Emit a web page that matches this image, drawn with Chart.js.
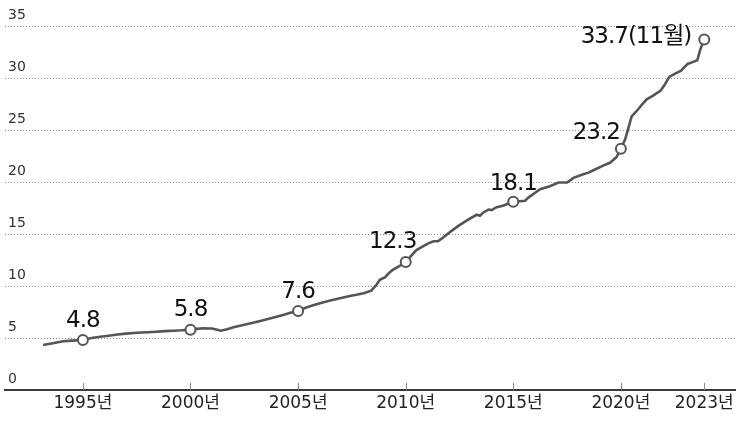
<!DOCTYPE html>
<html lang="ko">
<head>
<meta charset="utf-8">
<script src="https://cdn.jsdelivr.net/npm/chart.js@4/dist/chart.umd.min.js"></script>
<style>
  html, body { margin: 0; padding: 0; background: #fff; overflow: hidden; }
  canvas { display: block; }
</style>
</head>
<body>
<canvas id="chart" width="736" height="422"></canvas>
<script>
// Series: decimal year and value
const seriesYears = [
  1993.15, 1993.6, 1994.08, 1994.5, 1995.0, 1995.4, 1995.8, 1996.2, 1996.6, 1997.0,
  1997.5, 1998.0, 1998.4, 1998.8, 1999.2, 1999.6, 2000.0, 2000.3, 2000.6, 2001.0,
  2001.2, 2001.4, 2001.7, 2002.0, 2002.4, 2002.8, 2003.2, 2003.6, 2004.0, 2004.3,
  2004.6, 2005.0, 2005.35, 2005.7, 2006.1, 2006.5, 2006.9, 2007.3, 2007.7, 2008.05,
  2008.4, 2008.6, 2008.8, 2009.05, 2009.2, 2009.4, 2009.7, 2010.0, 2010.25, 2010.5,
  2010.8, 2011.05, 2011.3, 2011.5, 2011.7, 2012.1, 2012.5, 2013.0, 2013.3, 2013.45,
  2013.6, 2013.85, 2014.0, 2014.2, 2014.55, 2014.75, 2015.0, 2015.3, 2015.55, 2015.7,
  2015.9, 2016.25, 2016.7, 2017.1, 2017.5, 2017.8, 2018.25, 2018.5, 2018.75, 2019.2,
  2019.5, 2019.8, 2020.0, 2020.2, 2020.35, 2020.5, 2020.75, 2021.0, 2021.2, 2021.5,
  2021.85, 2022.05, 2022.25, 2022.5, 2022.8, 2023.1, 2023.3, 2023.55, 2023.7, 2023.875
];
const seriesValues = [
  4.32, 4.5, 4.68, 4.75, 4.8, 5.0, 5.12, 5.22, 5.33, 5.42,
  5.5, 5.55, 5.6, 5.66, 5.7, 5.74, 5.8, 5.88, 5.93, 5.92,
  5.82, 5.7, 5.85, 6.03, 6.22, 6.42, 6.62, 6.83, 7.05, 7.22,
  7.4, 7.6, 7.9, 8.15, 8.4, 8.6, 8.8, 9.0, 9.15, 9.3,
  9.55, 10.0, 10.6, 10.85, 11.2, 11.55, 11.9, 12.3, 12.9, 13.45,
  13.8, 14.1, 14.3, 14.3, 14.6, 15.25, 15.85, 16.5, 16.85, 16.75,
  17.05, 17.35, 17.3, 17.55, 17.75, 17.9, 18.1, 18.15, 18.2, 18.5,
  18.8, 19.3, 19.6, 19.95, 19.95, 20.4, 20.75, 20.9, 21.15, 21.6,
  21.85, 22.4, 23.2, 24.1, 25.2, 26.3, 26.85, 27.5, 27.95, 28.3,
  28.8, 29.4, 30.1, 30.4, 30.7, 31.35, 31.5, 31.7, 32.8, 33.7
];

// Marked points with their value labels
const markYears = [1995, 2000, 2005, 2010, 2015, 2020, 2023.875];
const markValues = [4.8, 5.8, 7.6, 12.3, 18.1, 23.2, 33.7];
const markLabels = ['4.8', '5.8', '7.6', '12.3', '18.1', '23.2', '33.7(11월)'];

// Axis ticks
const xTickYears = [1995, 2000, 2005, 2010, 2015, 2020, 2023.875];
const xTickLabels = ['1995년', '2000년', '2005년', '2010년', '2015년', '2020년', '2023년'];
const yTickValues = [0, 5, 10, 15, 20, 25, 30, 35];

// Where each value label sits relative to its point: [textAlign, dx, dy, baseline]
const labelPlacement = [
  ['center', 0, -13, 'alphabetic'],
  ['center', 0, -14, 'alphabetic'],
  ['center', 0, -13, 'alphabetic'],
  ['center', -13, -14, 'alphabetic'],
  ['center', 0, -12, 'alphabetic'],
  ['right', -1, -10, 'alphabetic'],
  ['right', -13, -2, 'middle']
];

const FONT = '"DejaVu Sans", "Noto Sans CJK KR", sans-serif';
const LINE_COLOR = '#555555';

const toXY = (xs, ys) => xs.map((x, i) => ({ x, y: ys[i] }));

// Small tick marks standing up from the bottom axis
const upTicks = {
  id: 'upTicks',
  afterDraw(chart) {
    const sx = chart.scales.x;
    const ctx = chart.ctx;
    ctx.save();
    ctx.strokeStyle = '#8a8a8a';
    ctx.lineWidth = 1;
    sx.ticks.forEach(t => {
      const px = Math.round(sx.getPixelForValue(t.value)) + 0.5;
      ctx.beginPath();
      ctx.moveTo(px, sx.top);
      ctx.lineTo(px, sx.top - 7);
      ctx.stroke();
    });
    ctx.restore();
  }
};

// Value labels next to the marked points
const valueLabels = {
  id: 'valueLabels',
  afterDatasetsDraw(chart) {
    const meta = chart.getDatasetMeta(1);
    const ctx = chart.ctx;
    ctx.save();
    ctx.fillStyle = '#111111';
    ctx.font = '23px ' + FONT;
    if ('letterSpacing' in ctx) ctx.letterSpacing = '-1px';
    meta.data.forEach((pt, i) => {
      const [align, dx, dy, base] = labelPlacement[i];
      ctx.textAlign = align;
      ctx.textBaseline = base;
      ctx.fillText(markLabels[i], pt.x + dx, pt.y + dy);
    });
    ctx.restore();
  }
};

new Chart(document.getElementById('chart'), {
  type: 'line',
  data: {
    datasets: [
      {
        data: toXY(seriesYears, seriesValues),
        borderColor: LINE_COLOR,
        borderWidth: 2.6,
        pointRadius: 0,
        tension: 0,
        order: 2
      },
      {
        data: toXY(markYears, markValues),
        showLine: false,
        pointRadius: 5,
        pointBorderWidth: 2,
        pointBorderColor: LINE_COLOR,
        pointBackgroundColor: '#ffffff',
        order: 1
      }
    ]
  },
  options: {
    responsive: false,
    animation: false,
    layout: { autoPadding: false, padding: { top: 26, left: 5, right: 0, bottom: 0 } },
    plugins: { legend: { display: false }, tooltip: { enabled: false } },
    scales: {
      x: {
        type: 'linear',
        min: 1991.38,
        max: 2025.35,
        afterBuildTicks: s => { s.ticks = xTickYears.map(v => ({ value: v })); },
        afterFit: s => { s.height = 32; s.paddingLeft = 0; s.paddingRight = 0; },
        grid: { display: false, drawTicks: false },
        border: { display: true, color: '#3a3a3a', width: 2 },
        ticks: {
          autoSkip: false,
          maxRotation: 0,
          padding: 3,
          color: '#222',
          font: { family: FONT, size: 17 },
          callback: (v, i) => xTickLabels[i]
        }
      },
      y: {
        min: 0,
        max: 35,
        afterBuildTicks: s => { s.ticks = yTickValues.map(v => ({ value: v })); },
        afterFit: s => { s.width = 0; },
        grid: {
          drawTicks: false,
          lineWidth: 1,
          color: c => (c.tick && c.tick.value === 0) ? 'rgba(0,0,0,0)' : 'rgba(0,0,0,0.45)'
        },
        border: { display: false, dash: [1, 2] },
        ticks: {
          mirror: true,
          padding: 3,
          labelOffset: -11,
          color: '#333',
          font: { family: FONT, size: 14 }
        }
      }
    }
  },
  plugins: [upTicks, valueLabels]
});
</script>
</body>
</html>
